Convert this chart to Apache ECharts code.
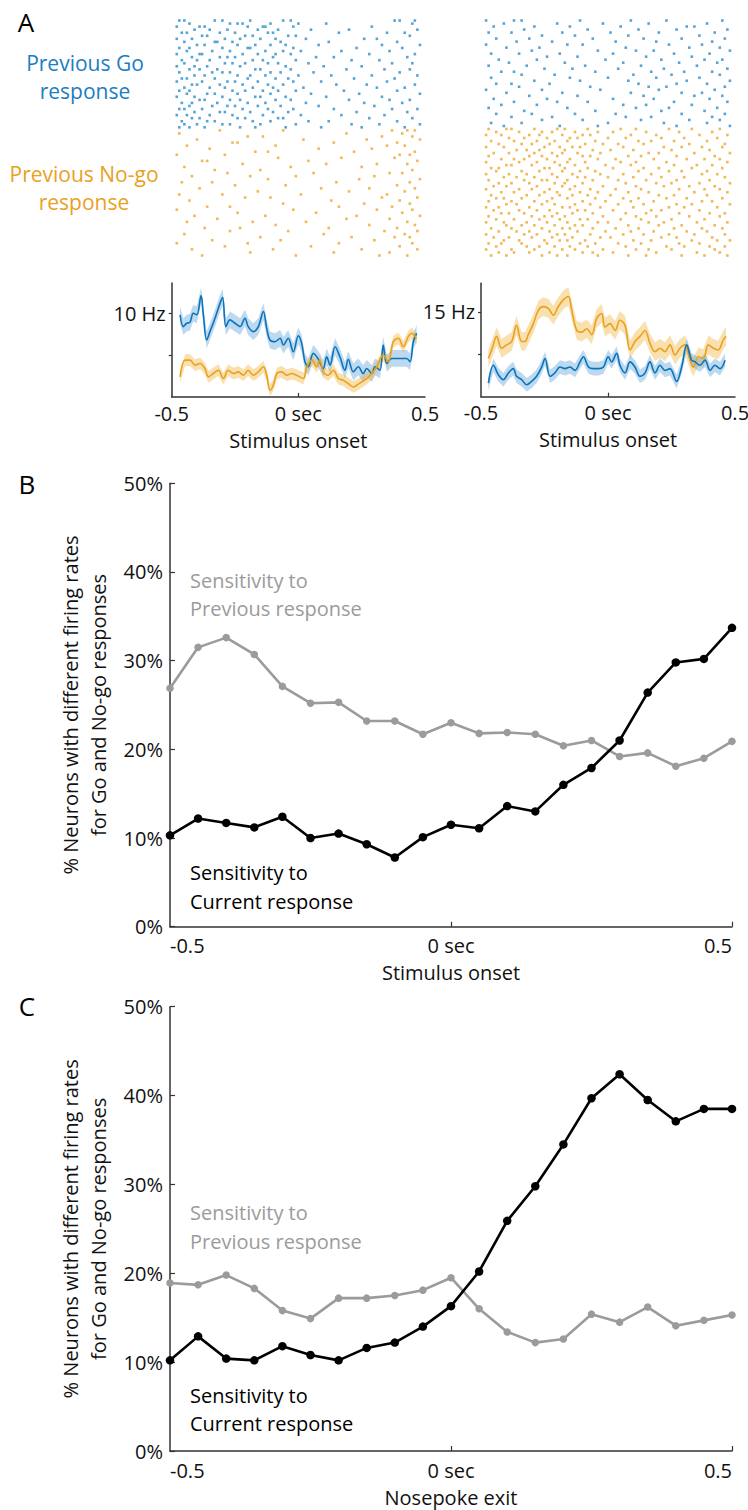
<!DOCTYPE html>
<html><head><meta charset="utf-8">
<script src="https://cdn.jsdelivr.net/npm/echarts@6/dist/echarts.min.js"></script>
<style>html,body{margin:0;padding:0;background:#fff}#c{width:748px;height:1510px}</style>
</head><body><div id="c"></div>
<script>
// ---------- Panel A: raster rows (spike times in hundredths of a second) ----------
const rasterLeftGo = [
[-47,-45,-33,-30,-19,-6,-3,38,40,46],[-43,-27,-24,-22,-11,0,11,45],[-48,-39,-37,-20,-14,-13,-2,29],
[-41,-35,-28,-16,-8,5,20,47],[-46,-44,-31,-25,-12,-10,16,35,42],[-38,-36,-21,-18,-4,-1,44],
[-48,-42,-29,-23,-15,-9,3,26,31],[-45,-33,-32,-26,-7,12,39],[-40,-37,-24,-17,-11,-5,8,33,48],
[-47,-43,-30,-20,-19,-2,23,41],[-44,-34,-27,-13,-6,1,17,36],[-48,-39,-38,-22,-16,-9,-3,28,46],
[-42,-31,-28,-25,-10,7,14,43],[-46,-40,-35,-18,-14,-1,21,32],[-45,-29,-26,-21,-12,-8,4,37,45],
[-48,-41,-36,-23,-5,10,25],[-43,-39,-32,-17,-15,-3,19,34,44],[-47,-34,-30,-27,-11,-7,6,40],
[-41,-37,-24,-19,-13,0,13,29,47],[-46,-44,-33,-20,-9,-4,22,38],[-48,-38,-28,-25,-16,-2,9,35],
[-42,-40,-31,-22,-12,-6,15,27,46],[-45,-35,-29,-18,-10,2,31,42],[-47,-43,-26,-21,-14,-8,-1,18,39],
[-44,-36,-33,-24,-11,5,24,48],[-48,-41,-30,-17,-15,-5,11,33],[-39,-37,-27,-23,-9,-3,20,36,44],
[-46,-42,-32,-20,-13,3,26,41],[-43,-34,-28,-25,-16,-7,8,30],[-47,-45,-38,-22,-12,-2,14,37,47],
[-41,-31,-29,-19,-10,-4,23,43],[-48,-44,-35,-26,-14,1,17,34],[-42,-39,-24,-21,-8,-6,28,45],
[-46,-36,-33,-18,-11,4,12,39],[-45,-40,-30,-27,-15,-1,21,32,48],[-47,-43,-37,-23,-17,-5,9,25,42]
];
const rasterLeftNoGo = [
[-31,-6,37,43,46],[-47,19,41],[-20,-14,33,45],[-40,2,27,48],[-26,-24,14,39],[-44,-9,35,42],
[-35,8,29],[-17,-12,22,46],[-48,-29,40,44],[-8,17,38],[-38,-36,4,47],[-22,11,31,43],
[-45,-3,25],[-33,-15,45],[-28,6,36,41],[-42,-19,-1,30],[-12,24,48],[-46,-34,15,44],
[-25,-5,39],[-39,9,28,46],[-16,20,42],[-47,-30,1,35],[-21,-11,33,47],[-43,13,40],
[-6,26,44],[-36,-27,16,37],[-48,-2,31,45],[-24,7,41],[-41,-13,23,48],[-32,19,36],
[-44,-18,3,43],[-9,28,46],[-37,-23,12,39],[-27,-4,34,47],[-45,10,42],[-15,21,38,44],
[-34,-7,30],[-48,-20,16,45],[-29,5,40],[-42,-10,25,47],[-19,14,36],[-38,-1,32,43]
];
const rasterRightGo = [
[-48,-37,-34,-11,9,23,45],[-41,-20,-2,16,39],[-45,-29,-15,5,31,34],[-33,-8,12,27,47],
[-47,-38,-18,1,20,42],[-26,-13,8,36],[-44,-31,-6,14,29,46],[-36,-22,3,19,41],
[-48,-16,-10,24,37],[-40,-27,7,32,44],[-30,-4,11,18,48],[-46,-35,-19,2,26,40],
[-24,-12,15,33],[-43,-28,-1,21,38,45],[-39,-17,6,28,43],[-47,-32,-9,13,35],
[-25,-14,4,22,47],[-42,-37,-5,17,30,41],[-34,-21,10,25,44],[-46,-15,0,19,36],
[-29,-11,8,31,48],[-44,-38,-23,12,27,39],[-35,-7,16,23,46],[-48,-26,-3,20,42],
[-40,-18,9,29,37],[-31,-12,14,34,45],[-45,-24,2,18,40],[-37,-20,-8,26,47],
[-42,-28,6,15,33],[-47,-16,11,24,43],[-33,-5,21,38],[-44,-30,-13,3,29,46],
[-38,-22,7,17,41],[-26,-10,13,32,44],[-46,-34,0,22,39],[-41,-19,-4,27,48]
];
const rasterRightNoGo = [
[-47,-40,-38,-29,-20,-17,-8,5,11,24,33,44],[-44,-35,-26,-22,-13,-4,2,15,28,41],
[-48,-42,-31,-27,-18,-10,-7,9,19,36,47],[-39,-33,-24,-15,-12,0,7,21,30,43],
[-46,-37,-28,-21,-16,-5,12,17,26,39],[-43,-34,-30,-23,-9,-2,4,14,32,46],
[-48,-41,-25,-19,-14,-11,6,22,29,37,45],[-36,-32,-27,-17,-6,1,10,25,40],
[-45,-39,-29,-22,-18,-12,-3,16,20,34,48],[-47,-31,-26,-20,-10,-7,8,13,27,42],
[-42,-37,-33,-24,-15,-4,3,18,31,38,44],[-48,-35,-28,-21,-16,-9,5,11,23,47],
[-40,-38,-30,-19,-13,-1,9,26,35,41],[-46,-43,-25,-23,-17,-8,2,14,20,33,45],
[-44,-34,-27,-18,-11,-5,12,24,29,39],[-48,-39,-32,-22,-14,-3,6,17,37,43],
[-41,-36,-29,-20,-12,-9,0,10,21,30,46],[-47,-33,-26,-24,-16,-6,4,15,27,40],
[-43,-38,-31,-21,-17,-10,7,19,25,36,48],[-45,-40,-28,-18,-13,-2,11,22,32,42],
[-48,-35,-30,-23,-15,-7,3,13,28,38,44],[-42,-37,-25,-20,-11,-4,8,16,34,47],
[-46,-32,-27,-19,-14,-8,1,20,26,39],[-44,-41,-34,-22,-16,-5,6,12,23,31,45],
[-47,-38,-29,-24,-10,-1,9,18,37,41],[-40,-36,-26,-21,-13,-7,4,14,27,33,48],
[-48,-43,-31,-18,-15,-3,10,24,30,43],[-45,-35,-28,-23,-12,-9,2,17,21,36],
[-42,-39,-33,-20,-14,-6,7,15,28,40,46],[-47,-30,-25,-22,-17,-2,11,19,32,44],
[-44,-37,-27,-19,-11,-8,5,13,25,38],[-48,-41,-32,-24,-16,-4,0,16,22,35,47],
[-40,-34,-29,-21,-13,-10,8,20,29,42],[-46,-38,-26,-18,-15,-6,3,12,26,37,45],
[-43,-36,-31,-23,-12,-1,9,18,31,39],[-48,-33,-28,-20,-17,-7,6,14,24,34,46],
[-45,-39,-30,-22,-14,-3,1,21,27,41],[-41,-35,-25,-19,-16,-9,10,17,33,43,48],
[-47,-42,-34,-24,-11,-5,4,13,28,36],[-44,-32,-27,-21,-15,-8,7,23,30,40,46],
[-48,-38,-29,-18,-13,-2,11,16,25,42],[-43,-37,-31,-23,-10,-6,2,19,35,44],
[-46,-40,-26,-20,-16,-4,8,15,29,38,47]
];

// ---------- Panel A: PSTH curves (time in s, rate in Hz) ----------
const psthLeftGoT = [-0.467,-0.454,-0.441,-0.428,-0.415,-0.401,-0.384,-0.375,-0.362,-0.349,-0.329,-0.309,-0.299,-0.286,-0.270,-0.250,-0.230,-0.211,-0.198,-0.178,-0.158,-0.138,-0.125,-0.112,-0.092,-0.072,-0.059,-0.040,-0.020,0.000,0.013,0.026,0.039,0.059,0.079,0.098,0.112,0.125,0.145,0.164,0.184,0.197,0.217,0.237,0.256,0.270,0.290,0.303,0.322,0.335,0.349,0.369,0.388,0.408,0.428,0.441,0.454,0.467];
const psthLeftGoV = [9.8,8.4,8.8,8.9,10.0,9.8,12.1,9.8,6.8,7.8,9.4,11.2,11.9,8.4,9.2,8.8,8.4,9.4,8.4,7.8,8.4,10.2,8.2,6.8,6.6,7.0,6.2,7.0,5.4,7.3,6.4,4.2,3.6,5.2,4.5,3.4,4.8,3.8,6.0,4.8,3.2,4.5,3.0,3.6,2.8,3.4,2.8,3.6,3.2,6.2,4.0,4.6,4.6,4.6,4.6,4.2,6.6,7.6];
const psthLeftNoGoT = [-0.467,-0.447,-0.428,-0.408,-0.388,-0.369,-0.355,-0.336,-0.316,-0.296,-0.277,-0.257,-0.237,-0.217,-0.198,-0.178,-0.158,-0.138,-0.125,-0.112,-0.099,-0.085,-0.066,-0.046,-0.026,-0.007,0.020,0.033,0.053,0.072,0.085,0.098,0.118,0.138,0.158,0.177,0.197,0.217,0.230,0.250,0.270,0.290,0.309,0.335,0.355,0.375,0.395,0.414,0.434,0.447,0.467];
const psthLeftNoGoV = [2.4,4.4,4.4,3.8,4.0,3.4,2.4,2.8,3.2,2.2,3.2,2.8,3.0,2.6,3.2,2.6,3.0,3.6,2.6,0.8,1.4,2.8,3.0,2.6,2.8,2.6,2.2,3.6,4.4,3.6,4.4,3.0,2.6,3.2,2.2,2.0,1.6,1.2,1.4,1.8,2.2,2.8,3.6,5.0,4.2,6.6,7.0,6.0,7.2,7.6,7.0];
const psthRightGoT = [-0.471,-0.451,-0.432,-0.412,-0.392,-0.373,-0.360,-0.340,-0.320,-0.301,-0.281,-0.261,-0.248,-0.228,-0.209,-0.189,-0.169,-0.150,-0.130,-0.110,-0.097,-0.077,-0.058,-0.038,-0.018,0.001,0.014,0.034,0.047,0.067,0.087,0.106,0.126,0.146,0.165,0.185,0.205,0.224,0.244,0.270,0.290,0.310,0.329,0.343,0.362,0.382,0.402,0.421,0.441,0.461];
const psthRightGoV = [6.6,8.7,7.6,7.0,7.8,8.3,7.4,7.0,6.4,6.8,7.4,8.5,9.5,7.4,7.8,8.5,8.3,8.5,8.1,9.1,9.7,8.5,8.3,8.3,8.5,9.7,9.1,10.1,8.7,7.8,9.1,8.5,7.4,7.8,9.1,7.8,8.7,8.1,8.3,6.8,8.5,11.1,9.3,9.1,8.7,9.3,8.1,8.7,8.3,9.3];
const psthRightNoGoT = [-0.471,-0.458,-0.438,-0.419,-0.399,-0.379,-0.360,-0.340,-0.327,-0.314,-0.294,-0.274,-0.255,-0.235,-0.215,-0.196,-0.176,-0.156,-0.143,-0.123,-0.104,-0.084,-0.064,-0.045,-0.025,-0.012,0.008,0.028,0.047,0.067,0.087,0.106,0.126,0.146,0.165,0.185,0.205,0.224,0.244,0.264,0.283,0.303,0.323,0.336,0.356,0.375,0.395,0.415,0.434,0.454,0.465];
const psthRightNoGoV = [9.5,10.5,12.1,10.7,11.1,11.5,13.4,11.5,11.5,12.3,13.6,15.2,15.6,15.4,14.6,15.6,16.4,16.8,15.2,12.8,12.6,13.0,12.3,14.2,14.8,13.2,13.6,12.8,14.0,13.4,10.5,11.5,12.1,12.8,11.3,10.3,10.7,10.3,11.1,9.9,10.7,11.1,9.3,8.5,9.7,9.5,11.1,10.7,10.5,11.7,12.1];
// half-width of the shaded error band (Hz)
const semLeftGo = 1.0, semLeftNoGo = 0.7, semRightGo = 0.8, semRightNoGo = 1.1;

// ---------- Panels B and C ----------
const binTimes = [-0.5,-0.45,-0.4,-0.35,-0.3,-0.25,-0.2,-0.15,-0.1,-0.05,0,0.05,0.1,0.15,0.2,0.25,0.3,0.35,0.4,0.45,0.5];
const bPrevious = [26.9,31.5,32.6,30.7,27.1,25.2,25.3,23.2,23.2,21.7,23.0,21.8,21.9,21.7,20.4,21.0,19.2,19.6,18.1,19.0,20.9];
const bCurrent  = [10.3,12.2,11.7,11.2,12.4,10.0,10.5,9.3,7.8,10.1,11.5,11.1,13.6,13.0,16.0,17.9,21.0,26.4,29.8,30.2,33.7];
const cPrevious = [18.9,18.7,19.8,18.3,15.8,14.9,17.2,17.2,17.5,18.1,19.5,16.0,13.4,12.2,12.6,15.4,14.5,16.2,14.1,14.7,15.3];
const cCurrent  = [10.2,12.9,10.4,10.2,11.8,10.8,10.2,11.6,12.2,14.0,16.3,20.2,25.9,29.8,34.5,39.7,42.4,39.5,37.1,38.5,38.5];

// ---------- styling ----------
const FONT = 'Open Sans';
const BLUE = '#0A74BC', ORANGE = '#EAA11F';
const BLUE_DOT = '#2C8CCB', ORANGE_DOT = '#EEA628';
const BLUE_BAND = 'rgba(70,150,212,0.36)', ORANGE_BAND = 'rgba(240,178,55,0.40)';
const GRAY = '#9B9B9B';
const AX = '#333';

const chart = echarts.init(document.getElementById('c'), null, {renderer: 'svg'});

function rasterPoints(rows, offset) {
  const pts = [];
  rows.forEach((r, i) => r.forEach(t => pts.push([t / 100, i + offset])));
  return pts;
}
function pairs(T, V) { return T.map((t, i) => [t, V[i]]); }

function bandSeries(T, V, sem, color, ax) {
  const data = T.map((t, i) => [t, V[i] - sem, V[i] + sem]);
  return {type: 'custom', xAxisIndex: ax, yAxisIndex: ax, data: data, silent: true, z: 1,
    encode: {x: 0, y: [1, 2]},
    renderItem: function (params, api) {
      if (params.dataIndex !== 0) return null;
      const up = data.map(d => api.coord([d[0], d[2]]));
      const lo = data.map(d => api.coord([d[0], d[1]])).reverse();
      return {type: 'polygon', shape: {points: up.concat(lo)}, style: {fill: color, stroke: null}};
    }};
}
function meanSeries(T, V, color, ax) {
  return {type: 'line', xAxisIndex: ax, yAxisIndex: ax, data: pairs(T, V), symbol: 'none', smooth: 0.35,
          lineStyle: {color: color, width: 1.6}, z: 3};
}

const labelStyle = {fontFamily: FONT, fontSize: 20, color: '#111'};

function psthX(idx) {
  return {type: 'value', gridIndex: idx, min: -0.5, max: 0.5, interval: 0.5,
    axisLine: {show: true, onZero: false, lineStyle: {color: AX, width: 1.5}},
    axisTick: {show: true, inside: true, length: 4, customValues: [0], lineStyle: {color: AX, width: 1.2}},
    splitLine: {show: false},
    axisLabel: Object.assign({margin: 6, formatter: v => v === 0 ? '0 sec' : String(v)}, labelStyle),
    name: 'Stimulus onset', nameLocation: 'middle', nameGap: 31,
    nameTextStyle: Object.assign({lineHeight: 24}, labelStyle)};
}
function psthY(idx, min, max, ticks, lab) {
  return {type: 'value', gridIndex: idx, min: min, max: max,
    axisLine: {show: true, onZero: false, lineStyle: {color: AX, width: 1.5}},
    axisTick: {show: true, inside: false, length: 3, customValues: ticks, lineStyle: {color: AX, width: 1.2}},
    splitLine: {show: false},
    axisLabel: Object.assign({margin: 6, customValues: [lab], formatter: v => v + ' Hz'}, labelStyle)};
}
function pctX(idx, name) {
  return {type: 'value', gridIndex: idx, min: -0.5, max: 0.5, interval: 0.5,
    axisLine: {show: true, onZero: false, lineStyle: {color: AX, width: 1.5}},
    axisTick: {show: true, inside: true, length: 5, customValues: [0, 0.5], lineStyle: {color: AX, width: 1.2}},
    splitLine: {show: false},
    axisLabel: Object.assign({margin: 9, alignMinLabel: 'left', alignMaxLabel: 'right',
      formatter: v => v === 0 ? '0 sec' : String(v)}, labelStyle),
    name: name, nameLocation: 'middle', nameGap: 34,
    nameTextStyle: Object.assign({lineHeight: 24}, labelStyle)};
}
function pctY(idx) {
  return {type: 'value', gridIndex: idx, min: 0, max: 50, interval: 10,
    axisLine: {show: true, onZero: false, lineStyle: {color: AX, width: 1.5}},
    axisTick: {show: true, inside: true, length: 5, lineStyle: {color: AX, width: 1.2}},
    splitLine: {show: false},
    axisLabel: Object.assign({margin: 7, formatter: '{value}%'}, labelStyle),
    name: '% Neurons with different firing rates\nfor Go and No-go responses',
    nameLocation: 'middle', nameRotate: 90, nameGap: 56,
    nameTextStyle: Object.assign({lineHeight: 28}, labelStyle)};
}
function pctSeries(ax, data, color, size, z) {
  return {type: 'line', xAxisIndex: ax, yAxisIndex: ax, data: binTimes.map((t, i) => [t, data[i]]),
    symbol: 'circle', symbolSize: size, showSymbol: true, clip: false, z: z,
    itemStyle: {color: color}, lineStyle: {color: color, width: 2.6}};
}
function rasterAxisX(idx) { return {type: 'value', gridIndex: idx, min: -0.5, max: 0.5, show: false}; }
function rasterAxisY(idx, n) { return {type: 'value', gridIndex: idx, min: -0.5, max: n - 0.5, inverse: true, show: false}; }
function rasterSeries(ax, pts, color) {
  return {type: 'scatter', xAxisIndex: ax, yAxisIndex: ax, data: pts, symbol: 'rect', symbolSize: 2.6,
    itemStyle: {color: color}, silent: true};
}

const nL = rasterLeftGo.length + rasterLeftNoGo.length;
const nR = rasterRightGo.length + rasterRightNoGo.length;

function txt(text, x, y, color, size, align, lh) {
  return {type: 'text', x: x, y: y, silent: true,
    style: {text: text, fill: color, fontFamily: FONT, fontSize: size, align: align || 'center',
            verticalAlign: 'middle', lineHeight: lh || size}};
}

chart.setOption({
  animation: false,
  backgroundColor: '#fff',
  grid: [
    {left: 171.7, top: 19, width: 253.3, height: 238, outerBoundsMode: 'none'},
    {left: 481, top: 19, width: 254, height: 238, outerBoundsMode: 'none'},
    {left: 171.7, top: 283, width: 253.3, height: 114, outerBoundsMode: 'none'},
    {left: 481, top: 283.3, width: 254, height: 113.4, outerBoundsMode: 'none'},
    {left: 170, top: 483.3, width: 562, height: 443.4, outerBoundsMode: 'none'},
    {left: 170, top: 1006.7, width: 562, height: 444.3, outerBoundsMode: 'none'}
  ],
  xAxis: [rasterAxisX(0), rasterAxisX(1), psthX(2), psthX(3), pctX(4, 'Stimulus onset'), pctX(5, 'Nosepoke exit')],
  yAxis: [rasterAxisY(0, nL), rasterAxisY(1, nR),
          psthY(2, 0, 13.6, [5, 10], 10), psthY(3, 5, 18.35, [10, 15], 15),
          pctY(4), pctY(5)],
  series: [
    rasterSeries(0, rasterPoints(rasterLeftGo, 0), BLUE_DOT),
    rasterSeries(0, rasterPoints(rasterLeftNoGo, rasterLeftGo.length), ORANGE_DOT),
    rasterSeries(1, rasterPoints(rasterRightGo, 0), BLUE_DOT),
    rasterSeries(1, rasterPoints(rasterRightNoGo, rasterRightGo.length), ORANGE_DOT),
    bandSeries(psthLeftGoT, psthLeftGoV, semLeftGo, BLUE_BAND, 2),
    bandSeries(psthLeftNoGoT, psthLeftNoGoV, semLeftNoGo, ORANGE_BAND, 2),
    bandSeries(psthRightNoGoT, psthRightNoGoV, semRightNoGo, ORANGE_BAND, 3),
    bandSeries(psthRightGoT, psthRightGoV, semRightGo, BLUE_BAND, 3),
    meanSeries(psthLeftGoT, psthLeftGoV, BLUE, 2),
    meanSeries(psthLeftNoGoT, psthLeftNoGoV, ORANGE, 2),
    meanSeries(psthRightNoGoT, psthRightNoGoV, ORANGE, 3),
    meanSeries(psthRightGoT, psthRightGoV, BLUE, 3),
    pctSeries(4, bPrevious, GRAY, 7.5, 3),
    pctSeries(4, bCurrent, '#000', 8.5, 4),
    pctSeries(5, cPrevious, GRAY, 7.5, 3),
    pctSeries(5, cCurrent, '#000', 8.5, 4)
  ],
  graphic: [
    txt('A', 26, 22, '#000', 26),
    txt('B', 27, 484, '#000', 26),
    txt('C', 27, 1006, '#000', 26),
    txt('Previous Go\nresponse', 85, 77, '#1C7DC1', 21, 'center', 28),
    txt('Previous No-go\nresponse', 84, 188, '#E9A11E', 21, 'center', 28),
    txt('Sensitivity to\nPrevious response', 190, 594, GRAY, 20, 'left', 28),
    txt('Sensitivity to\nCurrent response', 190, 887, '#000', 20, 'left', 29),
    txt('Sensitivity to\nPrevious response', 190, 1227, GRAY, 20, 'left', 29),
    txt('Sensitivity to\nCurrent response', 190, 1409, '#000', 20, 'left', 28)
  ]
});
</script>
</body></html>
